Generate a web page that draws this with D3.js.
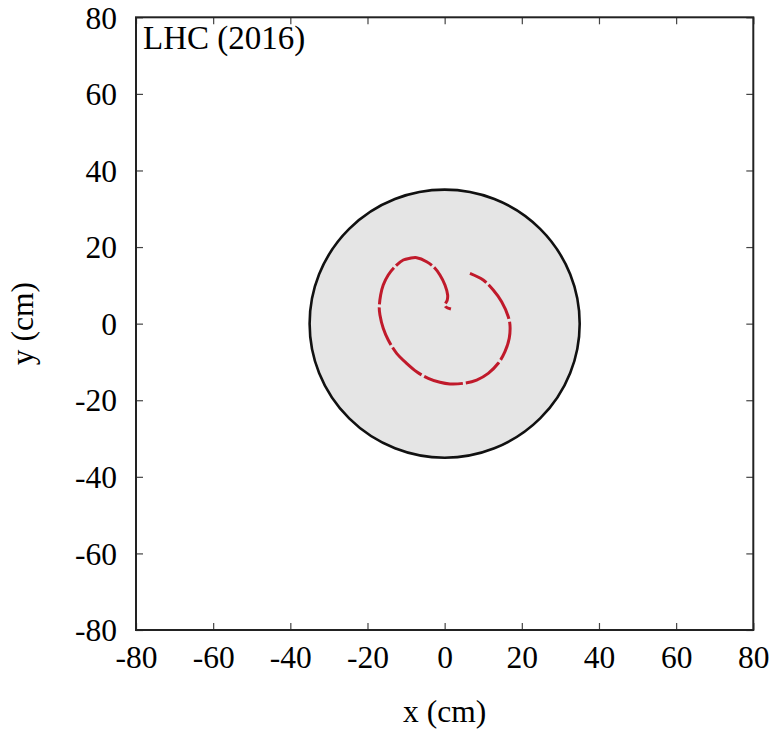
<!DOCTYPE html>
<html>
<head>
<meta charset="utf-8">
<script src="https://cdn.jsdelivr.net/npm/d3@7"></script>
<style>
  html, body { margin: 0; padding: 0; background: #fff; }
  svg { display: block; }
  text { font-family: "Liberation Serif", "Times New Roman", serif; fill: #000; }
</style>
</head>
<body>
<svg id="chart" width="775" height="730"></svg>
<script>
// Axis ranges and tick values (cm)
const xDomain = [-80, 80];
const yDomain = [-80, 80];
const xTicks = [-80, -60, -40, -20, 0, 20, 40, 60, 80];
const yTicks = [-80, -60, -40, -20, 0, 20, 40, 60, 80];

// Detector outline: circle of radius 35 cm centred on the beam axis
const detectorCenter = [0, 0];
const detectorRadius = 35;

// Reconstructed charged-particle track (x, y in cm)
const trackX = [6.56, 10.0, 12.6, 14.77, 16.49, 16.93, 16.74, 15.63, 13.89, 11.30, 8.29, 4.82, 1.37,
  -1.22, -4.25, -7.26, -9.85, -12.44, -14.62, -15.92, -16.77, -16.95, -16.59, -15.92, -14.62,
  -12.88, -10.73, -8.99, -7.26, -4.67, -2.51, -1.22, 0.08, 0.78, 0.67, 0.08, 0.34, 1.63];
const trackY = [13.15, 11.4, 8.79, 5.73, 1.82, -0.35, -3.83, -7.33, -10.35, -12.97, -14.72, -15.58, -15.76,
  -15.32, -14.27, -12.55, -10.36, -7.75, -4.27, -1.21, 2.26, 4.01, 7.48, 10.09, 12.71,
  14.87, 16.62, 17.07, 17.22, 16.18, 14.46, 12.71, 10.09, 7.48, 6.17, 4.87, 4.35, 3.83];

const panelLabel = "LHC (2016)";
const xTitle = "x (cm)";
const yTitle = "y (cm)";

const margin = { left: 136, top: 17.3 };
const W = 617.3, H = 612.7;
const fontSize = 31.5;

const svg = d3.select("#chart");
const g = svg.append("g").attr("transform", `translate(${margin.left},${margin.top})`);

const x = d3.scaleLinear().domain(xDomain).range([0, W]);
const y = d3.scaleLinear().domain(yDomain).range([H, 0]);

// Detector disc
g.append("ellipse")
  .attr("cx", x(detectorCenter[0]))
  .attr("cy", y(detectorCenter[1]))
  .attr("rx", x(detectorRadius) - x(0))
  .attr("ry", y(0) - y(detectorRadius))
  .attr("fill", "#e5e5e5")
  .attr("stroke", "#111")
  .attr("stroke-width", 2.6);

// Track
const track = trackX.map((v, i) => [v, trackY[i]]);
const line = d3.line().x(d => x(d[0])).y(d => y(d[1])).curve(d3.curveCatmullRom.alpha(0.5));
g.append("path")
  .datum(track)
  .attr("d", line)
  .attr("fill", "none")
  .attr("stroke", "#c01a2b")
  .attr("stroke-width", 3)
  .attr("stroke-dasharray", "40,3")
  .attr("stroke-dashoffset", 21);

// Axes with inward ticks on all four sides
const tickLen = 7;
const axisB = d3.axisBottom(x).tickValues(xTicks).tickSizeInner(-tickLen).tickSizeOuter(0).tickPadding(16).tickFormat(d3.format("d"));
const axisT = d3.axisTop(x).tickValues(xTicks).tickSizeInner(-tickLen).tickSizeOuter(0).tickFormat("");
const axisL = d3.axisLeft(y).tickValues(yTicks).tickSizeInner(-tickLen).tickSizeOuter(0).tickPadding(19).tickFormat(d3.format("d"));
const axisR = d3.axisRight(y).tickValues(yTicks).tickSizeInner(-tickLen).tickSizeOuter(0).tickFormat("");

function styleAxis(sel) {
  sel.select(".domain").remove();
  sel.selectAll(".tick line").attr("stroke", "#444").attr("stroke-width", 1.2);
  sel.selectAll(".tick text").attr("font-size", fontSize).attr("font-family", "Liberation Serif, serif").attr("fill", "#000");
}

// Plain hyphen-minus labels
g.append("g").attr("transform", `translate(0,${H})`).call(axisB).call(styleAxis)
  .selectAll(".tick text").text(d => String(d)).attr("dy", "0.71em");
g.append("g").call(axisT).call(styleAxis);
g.append("g").call(axisL).call(styleAxis)
  .selectAll(".tick text").text(d => String(d)).attr("dy", "0.34em");
g.append("g").attr("transform", `translate(${W},0)`).call(axisR).call(styleAxis);

// Frame
g.append("rect")
  .attr("x", 0).attr("y", 0).attr("width", W).attr("height", H)
  .attr("fill", "none").attr("stroke", "#222").attr("stroke-width", 2);

// Panel label
g.append("text")
  .attr("x", 7).attr("y", 32)
  .attr("font-size", 33)
  .text(panelLabel);

// Axis titles
svg.append("text")
  .attr("x", margin.left + W / 2).attr("y", 722)
  .attr("text-anchor", "middle")
  .attr("font-size", fontSize)
  .text(xTitle);

svg.append("text")
  .attr("transform", `translate(33,${margin.top + H / 2}) rotate(-90)`)
  .attr("text-anchor", "middle")
  .attr("font-size", fontSize)
  .text(yTitle);
</script>
</body>
</html>
